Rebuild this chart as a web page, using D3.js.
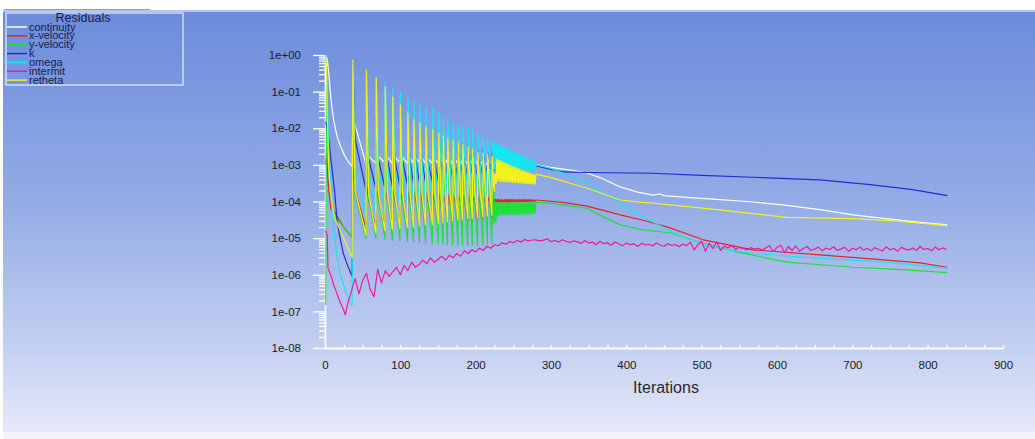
<!DOCTYPE html>
<html>
<head>
<meta charset="utf-8">
<script src="https://cdn.jsdelivr.net/npm/d3@7"></script>
<style>
  body { margin: 0; background: #fff; }
  svg { display: block; font-family: "Liberation Sans", Arial, sans-serif; }
</style>
</head>
<body>
<div id="chart"></div>
<script>
// ---- data ----
const seriesNames = ['continuity', 'x-velocity', 'y-velocity', 'k', 'omega', 'intermit', 'retheta'];
const seriesColors = ['#ffffff', '#e8212b', '#1fe03a', '#1c2fd6', '#18e4f4', '#f0189c', '#f2f21a'];

const xTicks = [0, 100, 200, 300, 400, 500, 600, 700, 800, 900];
const yTicks = [1, 1e-1, 1e-2, 1e-3, 1e-4, 1e-5, 1e-6, 1e-7, 1e-8];
const yTickLabels = ['1e+00', '1e-01', '1e-02', '1e-03', '1e-04', '1e-05', '1e-06', '1e-07', '1e-08'];

// iterations where the restart spikes occur
const spikeIters = [37, 55, 68, 80, 90, 100, 110, 118, 126, 134, 143, 151, 157, 163, 170, 177, 183, 190, 196, 203, 210, 216, 222];
const bandStart = 224; // dense oscillation from here to 280

const contHead = [[1, 1], [3, 0.75], [5, 0.32], [7, 0.1], [9, 4e-2], [12, 1.5e-2], [16, 6e-3], [20, 3.5e-3], [25, 2e-3], [30, 1.3e-3], [36, 9e-4]];
const contPeak = [3.5e-2, 2.6e-3, 2.5e-3, 2.4e-3, 2.3e-3, 2.2e-3, 2.2e-3, 2.1e-3, 2.0e-3, 2.0e-3, 1.9e-3, 1.9e-3, 1.8e-3, 1.8e-3, 1.7e-3, 1.7e-3, 1.6e-3, 1.6e-3, 1.55e-3, 1.5e-3, 1.5e-3, 1.45e-3, 1.4e-3];
const contKnee = [1.2e-2, 1.7e-3, 1.7e-3, 1.6e-3, 1.6e-3, 1.6e-3, 1.5e-3, 1.5e-3, 1.5e-3, 1.45e-3, 1.4e-3, 1.4e-3, 1.4e-3, 1.35e-3, 1.35e-3, 1.3e-3, 1.3e-3, 1.3e-3, 1.25e-3, 1.25e-3, 1.2e-3, 1.2e-3, 1.2e-3];
const contTrough = [1.05e-3, 1.1e-3, 1.15e-3, 1.1e-3, 1.15e-3, 1.1e-3, 1.1e-3, 1.15e-3, 1.1e-3, 1.1e-3, 1.1e-3, 1.05e-3, 1.1e-3, 1.05e-3, 1.1e-3, 1.05e-3, 1.05e-3, 1.1e-3, 1.05e-3, 1.05e-3, 1.0e-3, 1.05e-3, 1.05e-3];
const contBand = [[224, 1.3e-3], [250, 1.15e-3], [280, 1.0e-3]];
const contTail = [[300, 8.5e-4], [330, 7e-4], [348, 6e-4], [365, 4.5e-4], [392, 2.5e-4], [415, 1.8e-4], [435, 1.5e-4], [445, 1.6e-4], [450, 1.45e-4], [480, 1.3e-4], [520, 1.15e-4], [568, 9.7e-5], [610, 8e-5], [657, 6e-5], [701, 4.3e-5], [750, 3.3e-5], [790, 2.7e-5], [826, 2.3e-5]];

const xvelHead = [[1, 1e-3], [2, 2e-3], [3, 8e-4], [5, 2e-4], [8, 6e-5], [13, 5e-5], [25, 2e-5], [36, 1.05e-5]];
const xvelPeak = [1e-3, 3e-4, 2.6e-4, 2.3e-4, 2.1e-4, 2e-4, 1.9e-4, 1.85e-4, 1.8e-4, 1.75e-4, 1.7e-4, 1.65e-4, 1.6e-4, 1.55e-4, 1.5e-4, 1.5e-4, 1.45e-4, 1.4e-4, 1.4e-4, 1.35e-4, 1.3e-4, 1.3e-4, 1.25e-4];
const xvelKnee = [2e-4, 1.1e-4, 1.1e-4, 1.05e-4, 1.05e-4, 1.0e-4, 1.0e-4, 1.0e-4, 1.0e-4, 1.0e-4, 9.5e-5, 9.5e-5, 9.5e-5, 9.5e-5, 9.5e-5, 9.5e-5, 9.5e-5, 9.5e-5, 9.5e-5, 9.5e-5, 9.5e-5, 9.5e-5, 9.5e-5];
const xvelTrough = [1.8e-5, 2e-5, 2.1e-5, 2.2e-5, 2.2e-5, 2.3e-5, 2.4e-5, 2.4e-5, 2.5e-5, 2.5e-5, 2.6e-5, 2.6e-5, 2.7e-5, 2.8e-5, 2.8e-5, 2.9e-5, 3e-5, 3e-5, 3.1e-5, 3.2e-5, 3.3e-5, 3.4e-5, 3.5e-5];
const xvelBand = [1.1e-4, 9.4e-5, 1.15e-4, 9.6e-5, 1.12e-4, 9.4e-5, 1.16e-4, 9.8e-5, 1.12e-4, 9.5e-5,
  1.14e-4, 9.6e-5, 1.1e-4, 9.4e-5, 1.15e-4, 9.7e-5, 1.12e-4, 9.5e-5, 1.14e-4, 9.6e-5,
  1.13e-4, 9.5e-5, 1.15e-4, 9.7e-5, 1.12e-4, 9.6e-5, 1.14e-4, 9.8e-5, 1.12e-4, 9.6e-5,
  1.13e-4, 9.7e-5, 1.12e-4, 9.8e-5, 1.14e-4, 9.7e-5, 1.12e-4, 9.9e-5, 1.13e-4, 9.8e-5,
  1.12e-4, 9.9e-5, 1.13e-4, 1.0e-4, 1.12e-4, 9.9e-5, 1.12e-4, 1.0e-4, 1.11e-4, 1.0e-4,
  1.12e-4, 1.01e-4, 1.11e-4, 1.02e-4, 1.1e-4, 1.03e-4, 1.1e-4];
const xvelTail = [[281, 1.1e-4], [316, 9.5e-5], [348, 7.5e-5], [392, 4.3e-5], [430, 2.8e-5], [458, 1.9e-5], [502, 9e-6], [568, 4.8e-6], [657, 3.5e-6], [746, 2.5e-6], [790, 2.1e-6], [826, 1.6e-6]];

const yvelHead = [[1, 1.5e-7], [2, 0.15], [3, 3e-3], [5, 1e-3], [7, 2e-4], [9, 8e-5], [13, 4e-5], [25, 2e-5], [36, 1.1e-5]];
const yvelPeak = [1e-2, 4e-3, 3.5e-3, 3e-3, 2.6e-3, 2.3e-3, 2e-3, 1.8e-3, 1.6e-3, 1.5e-3, 1.4e-3, 1.3e-3, 1.2e-3, 1.1e-3, 1e-3, 9.5e-4, 9e-4, 8.5e-4, 8e-4, 7.5e-4, 7e-4, 6.5e-4, 6e-4];
const yvelKnee = [1.5e-4, 1.2e-4, 1.2e-4, 1.1e-4, 1.1e-4, 1.1e-4, 1.0e-4, 1.0e-4, 1.0e-4, 1.0e-4, 9.5e-5, 9.5e-5, 9.5e-5, 9e-5, 9e-5, 9e-5, 9e-5, 9e-5, 9e-5, 9e-5, 9e-5, 9e-5, 9e-5];
const yvelTrough = [1.0e-5, 1.0e-5, 9.5e-6, 9e-6, 8.5e-6, 8.2e-6, 8e-6, 7.6e-6, 7.4e-6, 7.2e-6, 7e-6, 6.8e-6, 6.6e-6, 6.5e-6, 6.4e-6, 6.3e-6, 6.2e-6, 6.2e-6, 6.3e-6, 6.5e-6, 6.8e-6, 7.2e-6, 2.6e-5];
const yvelBand = [9e-5, 2.6e-5, 9.2e-5, 2.8e-5, 9.5e-5, 4.2e-5, 9.5e-5, 4.3e-5, 9.3e-5, 4.4e-5,
  9.4e-5, 4.3e-5, 9.2e-5, 4.5e-5, 9.5e-5, 4.4e-5, 9.3e-5, 4.3e-5, 9.4e-5, 4.5e-5,
  9.2e-5, 4.4e-5, 9.5e-5, 4.5e-5, 9.3e-5, 4.3e-5, 9.4e-5, 4.6e-5, 9.2e-5, 4.4e-5,
  9.5e-5, 4.5e-5, 9.3e-5, 4.4e-5, 9.4e-5, 4.6e-5, 9.2e-5, 4.5e-5, 9.5e-5, 4.4e-5,
  9.3e-5, 4.6e-5, 9.4e-5, 4.5e-5, 9.2e-5, 4.6e-5, 9.5e-5, 4.5e-5, 9.3e-5, 4.7e-5,
  9.4e-5, 4.6e-5, 9.5e-5, 4.8e-5, 9.4e-5, 5e-5, 9.5e-5];
const yvelTail = [[281, 9.5e-5], [300, 9e-5], [348, 6.5e-5], [369, 3.8e-5], [392, 2.3e-5], [420, 1.7e-5], [458, 1.4e-5], [502, 7.2e-6], [547, 4.2e-6], [613, 2.2e-6], [701, 1.6e-6], [760, 1.4e-6], [826, 1.15e-6]];

const kHead = [[1, 1.5e-2], [4, 8e-3], [7, 2e-3], [10, 6e-4], [13, 1.7e-4], [16, 3e-5], [20, 1e-5], [24, 4e-6], [30, 1.8e-6], [36, 9e-7]];
const kPeak = [0.6, 3e-2, 2e-2, 1.5e-2, 1.2e-2, 1e-2, 9e-3, 8e-3, 7e-3, 6.5e-3, 6e-3, 5.5e-3, 5e-3, 4.8e-3, 4.5e-3, 4.2e-3, 4e-3, 3.8e-3, 3.5e-3, 3.2e-3, 3e-3, 2.8e-3, 2.6e-3];
const kKnee = [5e-3, 1.5e-3, 1.4e-3, 1.4e-3, 1.3e-3, 1.3e-3, 1.2e-3, 1.2e-3, 1.2e-3, 1.1e-3, 1.1e-3, 1.1e-3, 1.1e-3, 1e-3, 1e-3, 1e-3, 1e-3, 1e-3, 1e-3, 1e-3, 1e-3, 1e-3, 1e-3];
const kTrough = [2e-4, 2.2e-4, 2.4e-4, 2.5e-4, 2.6e-4, 2.8e-4, 3e-4, 3.1e-4, 3.2e-4, 3.4e-4, 3.5e-4, 3.6e-4, 3.8e-4, 4e-4, 4.1e-4, 4.2e-4, 4.4e-4, 4.5e-4, 4.6e-4, 4.8e-4, 5e-4, 5.2e-4, 5.4e-4];
const kBand = [[224, 9e-4], [250, 9.2e-4], [280, 9.5e-4]];
const kTail = [[281, 9.3e-4], [300, 7.5e-4], [316, 6.4e-4], [350, 6.2e-4], [435, 5.9e-4], [500, 5.2e-4], [568, 4.6e-4], [657, 3.9e-4], [724, 2.9e-4], [780, 2.1e-4], [826, 1.45e-4]];

const omegaHead = [[1, 1], [2, 0.5], [4, 1e-2], [6, 8e-4], [9, 8e-5], [12, 1.5e-5], [16, 3e-6], [20, 1.1e-6], [25, 5e-7], [29, 3e-7], [33, 1.6e-7], [36, 1.5e-7]];
const omegaPeak = [0.55, 0.3, 0.25, 0.18, 0.13, 0.095, 0.075, 0.055, 0.045, 0.037, 0.033, 0.027, 0.02, 0.017, 0.0148, 0.0123, 0.0107, 0.0101, 0.0089, 0.0074, 0.0065, 0.0054, 0.0045];
const omegaKnee = [8e-4, 8e-4, 8.5e-4, 8.5e-4, 9e-4, 9e-4, 9e-4, 9.5e-4, 9.5e-4, 9.5e-4, 1e-3, 1e-3, 1e-3, 1e-3, 1e-3, 1e-3, 1e-3, 1e-3, 1e-3, 1e-3, 1e-3, 1e-3, 1e-3];
const omegaTrough = [4e-5, 5e-5, 6e-5, 7e-5, 7.5e-5, 8e-5, 9e-5, 1e-4, 1.1e-4, 1.2e-4, 1.3e-4, 1.4e-4, 1.5e-4, 1.6e-4, 1.7e-4, 1.8e-4, 1.9e-4, 2e-4, 2.1e-4, 2.2e-4, 2.3e-4, 2.4e-4, 8e-4];
const omegaBand = [4.0e-3, 8e-4, 3.8e-3, 8e-4, 3.7e-3, 8.2e-4, 3.5e-3, 8e-4, 3.4e-3, 8e-4,
  3.3e-3, 7.8e-4, 3.1e-3, 8e-4, 3.0e-3, 7.8e-4, 2.9e-3, 7.8e-4, 2.8e-3, 7.6e-4,
  2.6e-3, 7.8e-4, 2.5e-3, 7.6e-4, 2.4e-3, 7.6e-4, 2.3e-3, 7.4e-4, 2.2e-3, 7.6e-4,
  2.1e-3, 7.4e-4, 2.0e-3, 7.4e-4, 1.95e-3, 7.2e-4, 1.85e-3, 7.4e-4, 1.8e-3, 7.2e-4,
  1.7e-3, 7.2e-4, 1.6e-3, 7.2e-4, 1.55e-3, 7e-4, 1.5e-3, 7.2e-4, 1.4e-3, 7e-4,
  1.35e-3, 7e-4, 1.3e-3, 7e-4, 1.2e-3, 7e-4, 1.1e-3];
const omegaTail = [[281, 1.0e-3], [300, 8e-4], [348, 3.2e-4], [392, 9e-5], [435, 2.8e-5], [470, 1.2e-5], [502, 7e-6], [530, 5e-6], [568, 3.8e-6], [610, 3.3e-6], [657, 2.8e-6], [746, 2.2e-6], [826, 1.5e-6]];

const rethetaHead = [[1, 0.9], [2, 0.5], [3, 2e-2], [5, 8e-4], [7, 2e-4], [10, 7e-5], [13, 3.5e-5], [20, 1.7e-5], [28, 7e-6], [36, 3e-6]];
const rethetaPeak = [0.73, 0.39, 0.24, 0.135, 0.071, 0.043, 0.026, 0.017, 0.014, 0.011, 8.9e-3, 7.4e-3, 6.2e-3, 5.6e-3, 4.8e-3, 4.2e-3, 3.5e-3, 3.1e-3, 2.6e-3, 2.2e-3, 2.1e-3, 1.9e-3, 1.7e-3];
const rethetaKnee = [2e-4, 1.6e-4, 1.6e-4, 1.5e-4, 1.5e-4, 1.5e-4, 1.5e-4, 1.5e-4, 1.5e-4, 1.5e-4, 1.5e-4, 1.5e-4, 1.6e-4, 1.6e-4, 1.6e-4, 1.6e-4, 1.7e-4, 1.7e-4, 1.7e-4, 1.8e-4, 1.8e-4, 1.8e-4, 1.9e-4];
const rethetaTrough = [1.2e-5, 1.4e-5, 1.6e-5, 1.7e-5, 1.8e-5, 2e-5, 2e-5, 2.2e-5, 2.3e-5, 2.4e-5, 2.5e-5, 2.6e-5, 2.8e-5, 3e-5, 3e-5, 3.2e-5, 3.4e-5, 3.5e-5, 3.6e-5, 3.8e-5, 4e-5, 4.2e-5, 3e-4];
const rethetaBand = [5.5e-4, 3e-4, 5.5e-4, 3e-4, 1.4e-3, 3.6e-4, 1.35e-3, 3.6e-4, 1.3e-3, 3.5e-4,
  1.25e-3, 3.6e-4, 1.2e-3, 3.5e-4, 1.15e-3, 3.5e-4, 1.1e-3, 3.4e-4, 1.05e-3, 3.5e-4,
  1.0e-3, 3.4e-4, 9.6e-4, 3.4e-4, 9.2e-4, 3.3e-4, 8.9e-4, 3.4e-4, 8.6e-4, 3.3e-4,
  8.2e-4, 3.3e-4, 7.9e-4, 3.2e-4, 7.6e-4, 3.3e-4, 7.3e-4, 3.2e-4, 7.0e-4, 3.2e-4,
  6.8e-4, 3.1e-4, 6.6e-4, 3.2e-4, 6.3e-4, 3.1e-4, 6.1e-4, 3.1e-4, 5.9e-4, 3.0e-4,
  5.7e-4, 3.1e-4, 5.5e-4, 3.0e-4, 5.4e-4, 3.0e-4, 5.3e-4];
const rethetaTail = [[281, 5.5e-4], [300, 4.5e-4], [348, 2.3e-4], [392, 1.1e-4], [420, 9.5e-5], [435, 9e-5], [524, 5.9e-5], [613, 3.7e-5], [701, 3.4e-5], [760, 2.9e-5], [826, 2.2e-5]];

const intermitHead = [[1, 1.6e-5], [3, 1.2e-5], [4, 1.5e-6], [6, 1.2e-6], [9, 8e-7], [12, 5e-7], [16, 3e-7], [20, 1.8e-7], [24, 1.2e-7], [27, 8e-8]];
const intermitStart = 30, intermitStep = 5;
const intermitVals = [
  1.6e-7, 3.5e-7, 8e-7, 3e-7, 7e-7, 1.1e-6, 4e-7, 2.5e-7, 1.4e-6, 6e-7,
  1.3e-6, 9e-7, 1.2e-6, 1.6e-6, 1.0e-6, 1.8e-6, 1.3e-6, 2.2e-6, 1.6e-6, 1.9e-6,
  2.5e-6, 2.0e-6, 2.9e-6, 2.2e-6, 2.6e-6, 3.2e-6, 2.5e-6, 3.4e-6, 2.9e-6, 3.8e-6,
  3.2e-6, 4.5e-6, 3.8e-6, 4.8e-6, 4.2e-6, 5.3e-6, 4.6e-6, 6.0e-6, 5.3e-6, 6.6e-6,
  6.2e-6, 7.4e-6, 6.8e-6, 8.0e-6, 7.5e-6, 8.6e-6, 7.9e-6, 9.2e-6, 8.4e-6, 8.9e-6,
  9.0e-6, 8.4e-6, 8.8e-6, 9.6e-6, 8.0e-6, 8.6e-6, 7.8e-6, 9.0e-6, 8.2e-6, 7.6e-6,
  8.4e-6, 7.9e-6, 7.2e-6, 8.6e-6, 7.4e-6, 7.8e-6, 6.6e-6, 8.2e-6, 7.0e-6, 7.5e-6,
  6.4e-6, 7.8e-6, 6.9e-6, 6.2e-6, 7.3e-6, 6.6e-6, 7.0e-6, 5.9e-6, 7.2e-6, 6.5e-6,
  6.8e-6, 6.1e-6, 7.4e-6, 6.4e-6, 6.0e-6, 7.0e-6, 6.3e-6, 6.7e-6, 5.8e-6, 6.9e-6,
  6.2e-6, 7.8e-6, 4.8e-6, 6.6e-6, 8.2e-6, 4.4e-6, 7.2e-6, 5.2e-6, 8.0e-6, 4.6e-6,
  6.0e-6, 5.4e-6, 6.4e-6, 4.9e-6, 5.6e-6, 5.2e-6, 4.8e-6, 5.5e-6, 5.0e-6, 5.3e-6,
  4.7e-6, 5.4e-6, 6.2e-6, 4.3e-6, 5.6e-6, 6.4e-6, 4.0e-6, 5.9e-6, 4.6e-6, 6.1e-6,
  4.4e-6, 5.2e-6, 5.9e-6, 4.6e-6, 5.0e-6, 5.7e-6, 4.5e-6, 5.3e-6, 4.9e-6, 5.8e-6,
  4.6e-6, 5.1e-6, 5.6e-6, 4.4e-6, 5.3e-6, 4.8e-6, 5.7e-6, 4.7e-6, 5.2e-6, 4.5e-6,
  5.5e-6, 4.9e-6, 4.5e-6, 5.8e-6, 4.8e-6, 5.2e-6, 4.4e-6, 5.6e-6, 5.0e-6, 4.7e-6,
  5.4e-6, 4.6e-6, 5.9e-6, 4.9e-6, 5.2e-6, 4.5e-6, 5.7e-6, 4.8e-6, 5.4e-6, 4.9e-6
];

// ---- assemble the series ----
function buildSeries(head, peak, knee, trough, band, tail) {
  let pts = head.map(d => d.slice());
  spikeIters.forEach((s, i) => {
    let next = i + 1 < spikeIters.length ? spikeIters[i + 1] : bandStart;
    pts.push([s, peak[i]], [s + 3, knee[i]], [next - 0.5, trough[i]]);
  });
  if (typeof band[0] === 'number') band.forEach((v, i) => pts.push([bandStart + i, v]));
  else band.forEach(d => pts.push(d));
  return pts.concat(tail);
}

const intermitSeries = intermitHead.concat(intermitVals.map((v, i) => [intermitStart + i * intermitStep, v]));

const allSeries = [
  buildSeries(contHead, contPeak, contKnee, contTrough, contBand, contTail),
  buildSeries(xvelHead, xvelPeak, xvelKnee, xvelTrough, xvelBand, xvelTail),
  buildSeries(yvelHead, yvelPeak, yvelKnee, yvelTrough, yvelBand, yvelTail),
  buildSeries(kHead, kPeak, kKnee, kTrough, kBand, kTail),
  buildSeries(omegaHead, omegaPeak, omegaKnee, omegaTrough, omegaBand, omegaTail),
  intermitSeries,
  buildSeries(rethetaHead, rethetaPeak, rethetaKnee, rethetaTrough, rethetaBand, rethetaTail)
];

// ---- drawing ----
const W = 1035, H = 439;
const svg = d3.select('#chart').append('svg').attr('width', W).attr('height', H);

const grad = svg.append('defs').append('linearGradient')
  .attr('id', 'bg').attr('x1', 0).attr('y1', 0).attr('x2', 0).attr('y2', 1);
[[0, '#6c8cdb'], [0.45, '#93abe6'], [0.8, '#c4d0f1'], [1, '#e6e9f8']]
  .forEach(([o, c]) => grad.append('stop').attr('offset', o).attr('stop-color', c));

svg.append('rect').attr('width', W).attr('height', H).attr('fill', '#ffffff');
svg.append('rect').attr('x', 3).attr('y', 12).attr('width', W - 3).attr('height', 420).attr('fill', 'url(#bg)');
svg.append('rect').attr('x', 3).attr('y', 10).attr('width', W - 3).attr('height', 2).attr('fill', '#b8c6e8');
svg.append('line').attr('x1', 4).attr('x2', 150).attr('y1', 9.5).attr('y2', 9.5)
  .attr('stroke', '#8e9ab8').attr('stroke-width', 1);
svg.append('rect').attr('x', 3).attr('y', 432).attr('width', W - 3).attr('height', 7).attr('fill', '#f3f4fa');

const x = d3.scaleLinear().domain([0, 900]).range([325, 1003]);
const y = d3.scaleLog().domain([1e-8, 1]).range([348, 55]);

// y axis: major + minor ticks
svg.append('g').attr('transform', `translate(${x(0)},0)`)
  .call(d3.axisLeft(y).tickValues(yTicks).tickFormat((d, i) => yTickLabels[i])
    .tickSize(12).tickSizeOuter(0).tickPadding(12));
const yMinor = y.ticks().filter(d => !yTicks.some(t => Math.abs(t - d) / t < 1e-6));
svg.append('g').attr('transform', `translate(${x(0)},0)`)
  .call(d3.axisLeft(y).tickValues(yMinor).tickFormat('').tickSize(6).tickSizeOuter(0));

// x axis: labels + small upward ticks
svg.append('g').attr('transform', `translate(0,${y(1e-8)})`)
  .call(d3.axisBottom(x).tickValues(xTicks).tickSize(0).tickSizeOuter(0).tickPadding(13));
svg.append('g').attr('transform', `translate(0,${y(1e-8)})`)
  .call(d3.axisBottom(x).tickValues(d3.range(0, 901, 25)).tickFormat('').tickSize(-3).tickSizeOuter(0));

svg.selectAll('.domain, .tick line').attr('stroke', '#ffffff').attr('stroke-width', 1.3);
svg.selectAll('.tick text').attr('fill', '#1c1c1c').attr('font-size', '11.5px')
  .attr('font-family', '"Liberation Sans", Arial, sans-serif');

svg.append('text').attr('x', 666).attr('y', 393).attr('text-anchor', 'middle')
  .attr('font-size', '16px').attr('fill', '#2a2a2a').text('Iterations');

// residual lines, drawn in legend order
const line = d3.line().x(d => x(d[0])).y(d => y(d[1]));
svg.append('g').selectAll('path').data(allSeries).join('path')
  .attr('d', line)
  .attr('fill', 'none')
  .attr('stroke', (d, i) => seriesColors[i])
  .attr('stroke-width', 1.2)
  .attr('stroke-linejoin', 'round');

// legend
const legend = svg.append('g');
legend.append('rect').attr('x', 6).attr('y', 13).attr('width', 177).attr('height', 72)
  .attr('fill', 'none').attr('stroke', '#ffffff').attr('stroke-width', 1);
legend.append('text').attr('x', 83).attr('y', 22).attr('text-anchor', 'middle')
  .attr('font-size', '12.5px').attr('fill', '#141a55').text('Residuals');
const rows = legend.selectAll('g.row').data(seriesNames).join('g')
  .attr('class', 'row')
  .attr('transform', (d, i) => `translate(0,${27 + i * 8.85})`);
rows.append('line').attr('x1', 7).attr('x2', 27).attr('y1', 0).attr('y2', 0)
  .attr('stroke', (d, i) => seriesColors[i]).attr('stroke-width', 1.5);
rows.append('text').attr('x', 29).attr('y', 3.5)
  .attr('font-size', '11px').attr('fill', '#141a55').text(d => d);
</script>
</body>
</html>
